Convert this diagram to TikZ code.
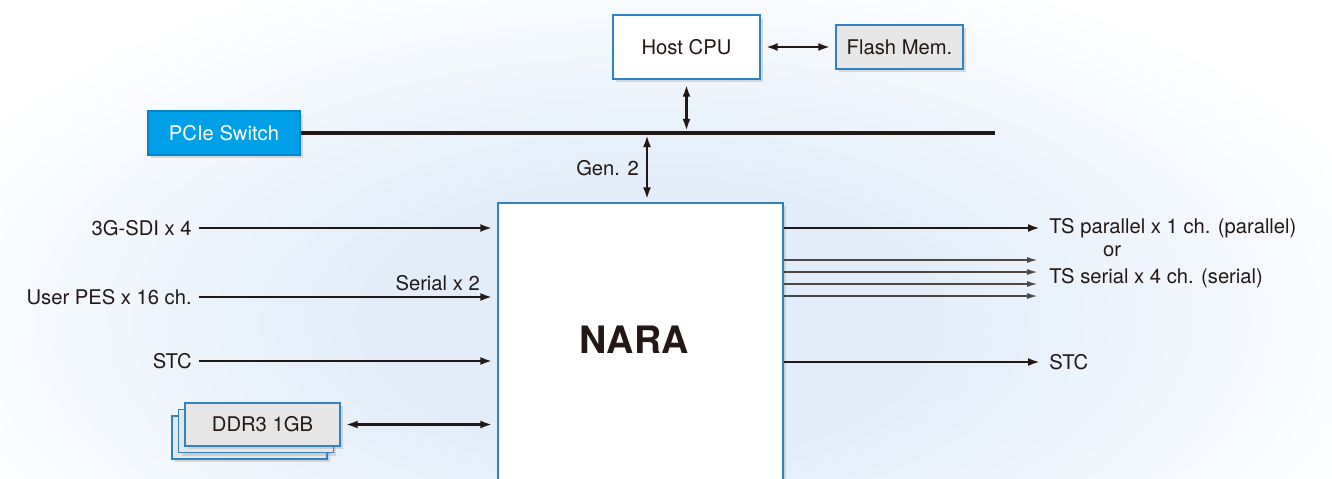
\documentclass[tikz,border=0pt]{standalone}
\usepackage{fontspec}
\setmainfont{TeX Gyre Heros}
\usetikzlibrary{arrows.meta,shadows,positioning}
\definecolor{inkblack}{HTML}{231815}
\definecolor{boxblue}{HTML}{2E82C6}
\definecolor{pcieblue}{HTML}{00A0E9}
\definecolor{pcieedge}{HTML}{0086CC}
\definecolor{memgray}{HTML}{E6E6E6}
\definecolor{glowblue}{HTML}{E2EDF9}
\pgfdeclareradialshading{glow}{\pgfpoint{0bp}{0bp}}{color(0bp)=(glowblue); color(9bp)=(glowblue); color(25bp)=(white); color(50bp)=(white)}

\begin{document}
\begin{tikzpicture}[x=0.02cm, y=-0.02cm, font=\fontsize{11.5}{13}\selectfont, text=inkblack,
    blockbox/.style={draw=boxblue, line width=0.8pt, fill=white, drop shadow={shadow xshift=0.6mm, shadow yshift=-0.6mm, opacity=0.25}},
    membox/.style={blockbox, fill=memgray},
    sig/.style={draw=inkblack, line width=1.4pt, -{Latex[length=0.24cm, width=0.16cm]}},
    dblsig/.style={sig, {Latex[length=0.24cm, width=0.16cm]}-{Latex[length=0.24cm, width=0.16cm]}},
    thinsig/.style={draw=inkblack!80, line width=0.6pt, -{Latex[length=0.2cm, width=0.12cm]}},
    lbl/.style={inner sep=0.14cm}]
    \useasboundingbox (0,0) rectangle (1332,478);
    \clip (0,0) rectangle (1332,478);
    % Background
    \fill[white] (0,0) rectangle (1332,478);
    \shade[shading=glow] (650,320) ellipse (780 and 380);

    % Nodes
    \node[blockbox, minimum width=2.94cm, minimum height=1.28cm] (cpu) at (686.5,47) {Host CPU};
    \node[membox, minimum width=2.54cm, minimum height=0.88cm] (flash) at (899.5,47) {Flash Mem.};
    \node[blockbox, draw=pcieedge, fill=pcieblue, text=white, minimum width=3.04cm, minimum height=0.88cm] (pcie) at (224,133) {PCIe Switch};
    \node[blockbox, minimum width=5.7cm, minimum height=5.68cm, text depth=0.2cm, font=\bfseries\fontsize{21.5}{24}\selectfont] (nara) at (640.5,345) {NARA\hspace*{0.25cm}};
    \node[membox, minimum width=3.1cm, minimum height=0.86cm] (ddr3back) at (249.5,437.5) {};
    \node[membox, minimum width=3.1cm, minimum height=0.86cm] (ddr3mid) at (256,431) {};
    \node[membox, minimum width=3.1cm, minimum height=0.86cm] (ddr3) at (262.5,424.5) {DDR3 1GB};
    \node[lbl, anchor=east] (sdi) at (199,228) {3G-SDI x 4};
    \node[lbl, anchor=east] (pes) at (199,297) {User PES x 16 ch.};
    \node[lbl, anchor=east] (stcin) at (199,361) {STC};
    \node[lbl, anchor=west] (tspar) at (1042,228) {TS parallel x 1 ch. (parallel)};
    \node (orword) at (1112,251) {or};
    \node[lbl, anchor=west] (tsser) at (1042,278) {TS serial x 4 ch. (serial)};
    \node[lbl, anchor=west] (stcout) at (1042,362) {STC};
    \coordinate (busend) at (995,133);
    \coordinate (gen2) at (647,133);

    % Arrows
    \draw[draw=inkblack, line width=2.3pt] (pcie.east) -- (busend);
    \draw[dblsig, shorten <=0.1cm, shorten >=0.1cm] (cpu.east) -- (flash.west);
    \draw[dblsig, shorten <=0.1cm, shorten >=1.2pt] (cpu.south) -- (cpu.south |- busend);
    \draw[dblsig, shorten <=1.2pt, shorten >=0.06cm] (gen2) -- (gen2 |- nara.north) node[midway, left, lbl] (gen2lbl) {Gen. 2};
    \draw[sig, shorten >=0.1cm] (sdi.east) -- (sdi.east -| nara.west);
    \draw[sig, shorten >=0.1cm] (pes.east) -- (pes.east -| nara.west) node[pos=0.8, above, inner sep=3pt] (serial) {Serial x 2};
    \draw[sig, shorten >=0.1cm] (stcin.east) -- (stcin.east -| nara.west);
    \draw[dblsig, shorten <=0.1cm, shorten >=0.1cm] (ddr3.east) -- (ddr3.east -| nara.west);
    \draw[sig, shorten >=0.04cm] (nara.east |- tspar) -- (tspar.west);
    \foreach \y in {260,272,284,296}
        \draw[thinsig, shorten >=0.1cm] (nara.east |- 0,\y) -- (tsser.west |- 0,\y);
    \draw[sig, shorten >=0.04cm] (nara.east |- stcout) -- (stcout.west);
\end{tikzpicture}
\end{document}
